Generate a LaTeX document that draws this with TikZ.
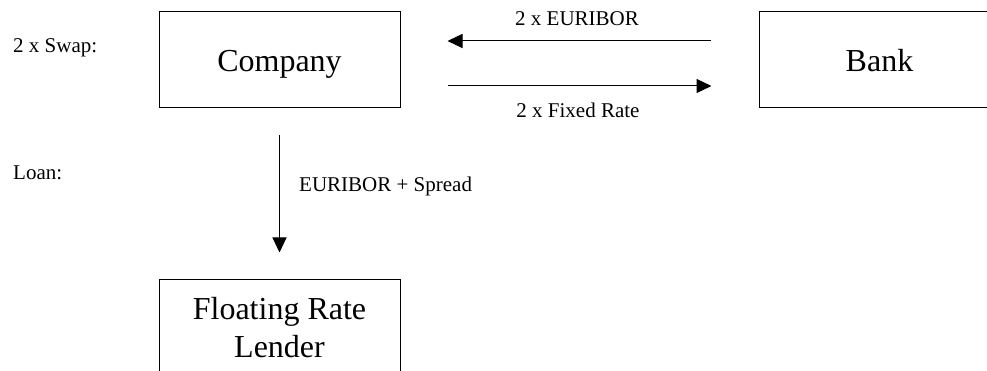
\documentclass[tikz,border=0pt]{standalone}
\usepackage{fontspec}
\setmainfont{Liberation Serif}
\usetikzlibrary{positioning,arrows.meta}

\begin{document}
\begin{tikzpicture}[x=1pt, y=-1pt,
    party/.style={draw, line width=1pt, minimum width=241pt, minimum height=96pt,
        align=center, inner sep=0pt, font=\fontsize{32}{38.5}\selectfont},
    oneline/.style={text height=24pt, text depth=0pt},
    flow/.style={line width=1pt, -{Triangle[length=15pt,width=14pt]}},
    note/.style={inner sep=0pt, anchor=base, font=\fontsize{21}{25}\selectfont}
]
    \useasboundingbox (0,0) rectangle (987,371);

    \node[party, oneline] (company) at (279.5,60) {Company};
    \node[party, oneline] (bank) at (879.5,60) {Bank};
    \node[party] (lender) at (279.5,327.5) {Floating Rate\\Lender};

    \node[note, anchor=base west] (swap) at (13,53) {2 x Swap:};
    \node[note, anchor=base west] (loan) at (13,180) {Loan:};

    \draw[flow, shorten <=48pt, shorten >=47pt] ([yshift=19pt]bank.west) -- ([yshift=19pt]company.east);
    \draw[flow, shorten <=47pt, shorten >=47pt] ([yshift=-26pt]company.east) -- ([yshift=-26pt]bank.west);
    \draw[flow, shorten <=27pt, shorten >=26.5pt] (company.south) -- (lender.north);

    \node[note] (euribor) at (577,26) {2 x EURIBOR};
    \node[note] (fixed) at (578,118) {2 x Fixed Rate};
    \node[note, anchor=base west] (spread) at (299,192) {EURIBOR + Spread};
\end{tikzpicture}
\end{document}
